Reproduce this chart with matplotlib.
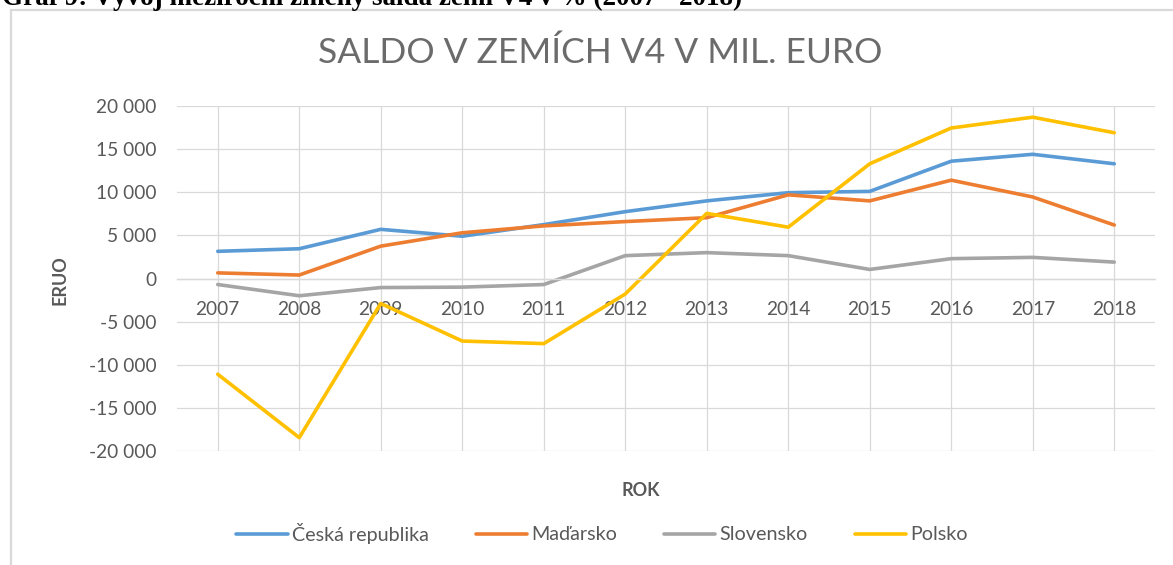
import matplotlib
matplotlib.use("Agg")
import matplotlib.pyplot as plt
from matplotlib.patches import Rectangle
from matplotlib.ticker import FuncFormatter

YEARS = ["2007", "2008", "2009", "2010", "2011", "2012",
         "2013", "2014", "2015", "2016", "2017", "2018"]

CZ = [3150, 3450, 5700, 4900, 6250, 7750, 9000, 9950, 10100, 13600, 14400, 13300]
HU = [650, 400, 3750, 5300, 6100, 6600, 7050, 9700, 9000, 11400, 9450, 6200]
SK = [-700, -2000, -1050, -1000, -700, 2650, 3000, 2650, 1050, 2300, 2450, 1900]
PL = [-11100, -18450, -2900, -7250, -7550, -1800, 7550, 5950, 13300, 17450, 18700, 16900]

SERIES = [
    ("Česká republika", CZ, "#5B9BD5"),
    ("Maďarsko", HU, "#ED7D31"),
    ("Slovensko", SK, "#A5A5A5"),
    ("Polsko", PL, "#FFC000"),
]

TEXT = "#595959"
GRID = "#d9d9d9"
W, H = 1173, 565

plt.rcParams["font.family"] = ["Lato", "DejaVu Sans"]

fig = plt.figure(figsize=(W / 100, H / 100), dpi=100)
fig.patch.set_facecolor("white")

# chart frame (cut off at right/bottom like the screenshot)
fig.patches.append(Rectangle((11 / W, -0.2), 1.2, 1.2 - 9.5 / H,
                             transform=fig.transFigure, fill=False,
                             edgecolor=GRID, linewidth=1.6))

# document caption, only its lower part is visible
fig.text(2 / W, 1 - 5 / H, "Graf 9: Vývoj meziroční změny salda zemí V4 v % (2007 - 2018)",
         family=["Liberation Serif"], fontweight="bold", fontsize=19.5,
         va="baseline", ha="left", color="black")

ax = fig.add_axes([177 / W, 1 - 451 / H, (1155 - 177) / W, (451 - 106) / H])

x = list(range(len(YEARS)))
for name, vals, col in SERIES:
    ax.plot(x, vals, color=col, linewidth=2.6, label=name, solid_capstyle="round")

ax.set_xlim(-0.5, len(YEARS) - 0.5)
ax.set_ylim(-20000, 20000)
ax.set_yticks(range(-20000, 20001, 5000))
ax.yaxis.set_major_formatter(FuncFormatter(lambda v, p: f"{int(v):,}".replace(",", " ")))
ax.set_xticks(x)
ax.set_xticklabels(YEARS)
ax.grid(True, color=GRID, linewidth=0.9)
ax.set_axisbelow(True)

for s in ["top", "right", "left"]:
    ax.spines[s].set_visible(False)
ax.spines["bottom"].set_position(("data", 0))
ax.spines["bottom"].set_color(GRID)
ax.spines["bottom"].set_linewidth(1.0)

ax.tick_params(axis="y", length=0, pad=15, labelsize=13.8, labelcolor=TEXT)
ax.tick_params(axis="x", length=0, pad=16, labelsize=13.8, labelcolor=TEXT)

fig.text(600 / W, 1 - 53 / H, "SALDO V ZEMÍCH V4 V MIL. EURO", ha="center", va="center",
         fontsize=25.5, fontweight="normal", color="#6b6b6b")
fig.text(60 / W, 1 - 280 / H, "ERUO", rotation=90, ha="center", va="center",
         fontsize=13, fontweight="bold", color=TEXT)
fig.text(641 / W, 1 - 490 / H, "ROK", ha="center", va="center",
         fontsize=13, fontweight="bold", color=TEXT)

fig.legend(loc="center", bbox_to_anchor=(602 / W, 1 - 533 / H), ncol=4, frameon=False,
           fontsize=14.2, labelcolor=TEXT, handlelength=2.6, handletextpad=0.2,
           columnspacing=2.4)

fig.savefig("out.png", dpi=100)
